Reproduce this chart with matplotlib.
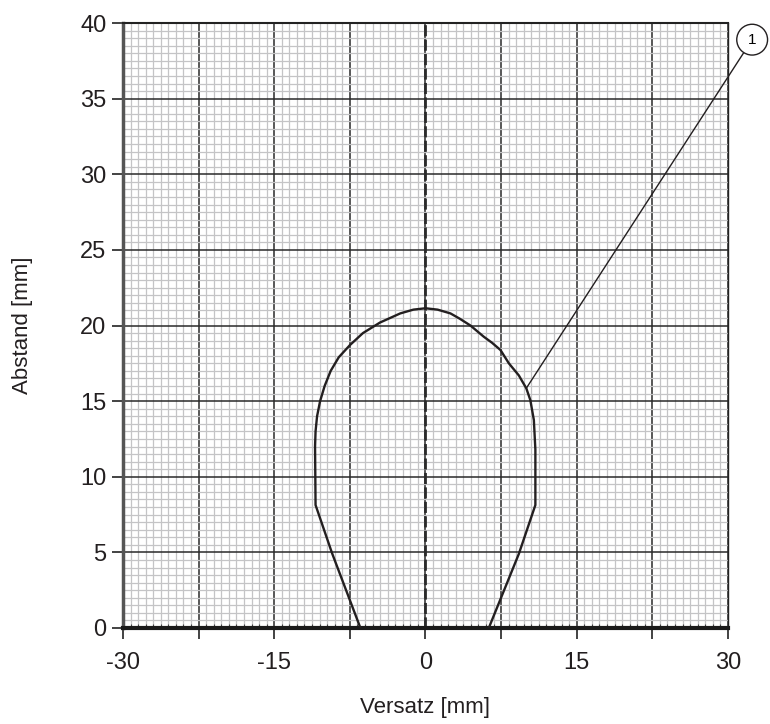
import matplotlib.pyplot as plt
from matplotlib.ticker import MultipleLocator, FuncFormatter

plt.rcParams['font.family'] = ['Liberation Sans', 'DejaVu Sans']
plt.rcParams['axes.unicode_minus'] = False

# Erfassungsbereich (Versatz / Abstand in mm)
versatz = [-6.45, -9.26, -10.9, -10.95, -10.9, -10.75, -10.45, -10.0, -9.4, -8.6,
           -7.5, -6.2, -4.5, -2.5, -1.2, 0.0, 1.2, 2.48, 3.4, 4.46, 5.78,
           6.6, 7.44, 8.27, 9.26, 10.0, 10.4, 10.75, 10.9, 10.9, 9.26, 6.28]
abstand = [0.0, 4.94, 8.13, 12.0, 13.0, 14.0, 15.0, 16.0, 17.0, 17.9,
           18.7, 19.5, 20.2, 20.8, 21.05, 21.14, 21.05, 20.8, 20.45, 20.0, 19.26,
           18.86, 18.38, 17.5, 16.7, 15.85, 15.07, 13.75, 11.8, 8.13, 4.9, 0.0]

callout_xy = (10.0, 15.85)
callout_text = (32.4, 38.9)

fig = plt.figure(figsize=(7.7, 7.24), dpi=100)
ax = fig.add_axes([0.1597, 0.1326, 0.7857, 0.8356])

ax.set_xlim(-30, 30)
ax.set_ylim(0, 40)

ax.xaxis.set_major_locator(MultipleLocator(7.5))
ax.xaxis.set_minor_locator(MultipleLocator(0.75))
ax.yaxis.set_major_locator(MultipleLocator(5))
ax.yaxis.set_minor_locator(MultipleLocator(0.5))
ax.xaxis.set_major_formatter(FuncFormatter(
    lambda v, p: '%d' % round(v) if abs(v / 15 - round(v / 15)) < 1e-6 else ''))

ax.grid(True, which='minor', color='#c4c4c6', lw=0.9, zorder=0)
ax.grid(True, which='major', color='#2a2a2a', lw=1.1, zorder=1)
ax.set_axisbelow(True)
ax.axvline(0, color='#2a2a2a', lw=2.0, ls=(0, (4, 1.2)), zorder=1)

ax.tick_params(which='major', direction='out', length=8, width=1.2,
               labelsize=17, color='#222222', labelcolor='#231f20')
ax.tick_params(axis='x', which='major', pad=9)
ax.tick_params(axis='y', which='major', pad=4)
ax.tick_params(axis='x', which='minor', direction='in', length=3, width=0.8,
               color='#444444', top=False)
ax.tick_params(axis='y', which='minor', length=0)

ax.spines['bottom'].set_linewidth(3)
ax.spines['bottom'].set_color('#1a1a1a')
ax.spines['left'].set_linewidth(2.5)
ax.spines['left'].set_color('#555555')
ax.spines['top'].set_linewidth(1.5)
ax.spines['top'].set_color('#222222')
ax.spines['right'].set_linewidth(1.0)
ax.spines['right'].set_color('#222222')

ax.plot(versatz, abstand, color='#231f20', lw=1.7, zorder=3, solid_joinstyle='round')

ax.annotate('1', xy=callout_xy, xytext=callout_text, fontsize=11,
            ha='center', va='center', annotation_clip=False,
            bbox=dict(boxstyle='circle,pad=0.55', fc='white', ec='#231f20', lw=1.0),
            arrowprops=dict(arrowstyle='-', color='#231f20', lw=1.0,
                            shrinkA=0, shrinkB=0))

ax.set_xlabel('Versatz [mm]', fontsize=16, labelpad=17, color='#231f20')
ax.set_ylabel('Abstand [mm]', fontsize=16, labelpad=34, color='#231f20')

fig.savefig('out.png', dpi=100)
